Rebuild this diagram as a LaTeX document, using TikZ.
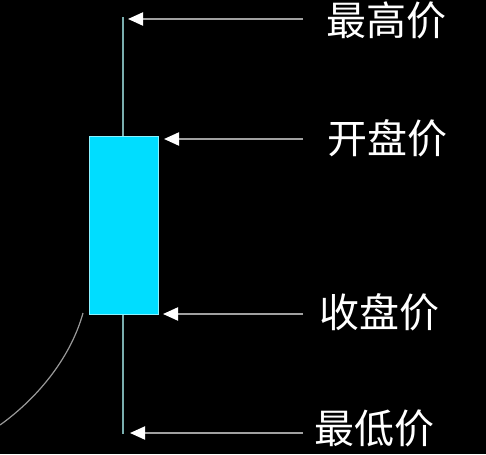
\documentclass[tikz,border=0pt]{standalone}
\usepackage{fontspec}
\usepackage{tikz}
\usetikzlibrary{arrows.meta}
\newfontfamily\cjk{Noto Sans CJK SC}
\definecolor{candle}{HTML}{00DDFF}
\definecolor{candleedge}{HTML}{8AF2FF}
\definecolor{wick}{HTML}{7AAEAE}
\definecolor{pointer}{HTML}{A0A0A0}

\begin{document}
\begin{tikzpicture}[x=1pt,y=-1pt,
	lbl/.style={anchor=west,inner sep=0pt,text=white,font=\cjk\fontsize{40}{40}\selectfont},
	ptr/.style={pointer,line width=2pt,-{Triangle[length=15pt,width=13pt,color=white,fill=white]}}]
	\fill[black] (0,0) rectangle (486,454);
	\useasboundingbox (0,0) rectangle (486,454);
	\draw[gray!80,line width=1.2pt] (0,425) .. controls (35,400) and (70,360) .. (83,313);
	\draw[wick,line width=1.6pt] (123,17) -- (123,434);
	\draw[candleedge,fill=candle,line width=1pt] (89,137) rectangle (158,314);
	\coordinate (hiTip) at (128,19);
	\coordinate (opTip) at (164,139);
	\coordinate (clTip) at (163,314);
	\coordinate (loTip) at (130,433);
	\node[lbl] (hi) at (326,20) {最高价};
	\node[lbl] (op) at (327,138) {开盘价};
	\node[lbl] (cl) at (319,312) {收盘价};
	\node[lbl] (lo) at (314,428) {最低价};
	\draw[ptr] ([xshift=-23pt]hi.west |- hiTip) -- (hiTip);
	\draw[ptr] ([xshift=-24pt]op.west |- opTip) -- (opTip);
	\draw[ptr] ([xshift=-16pt]cl.west |- clTip) -- (clTip);
	\draw[ptr] ([xshift=-11pt]lo.west |- loTip) -- (loTip);
\end{tikzpicture}
\end{document}
